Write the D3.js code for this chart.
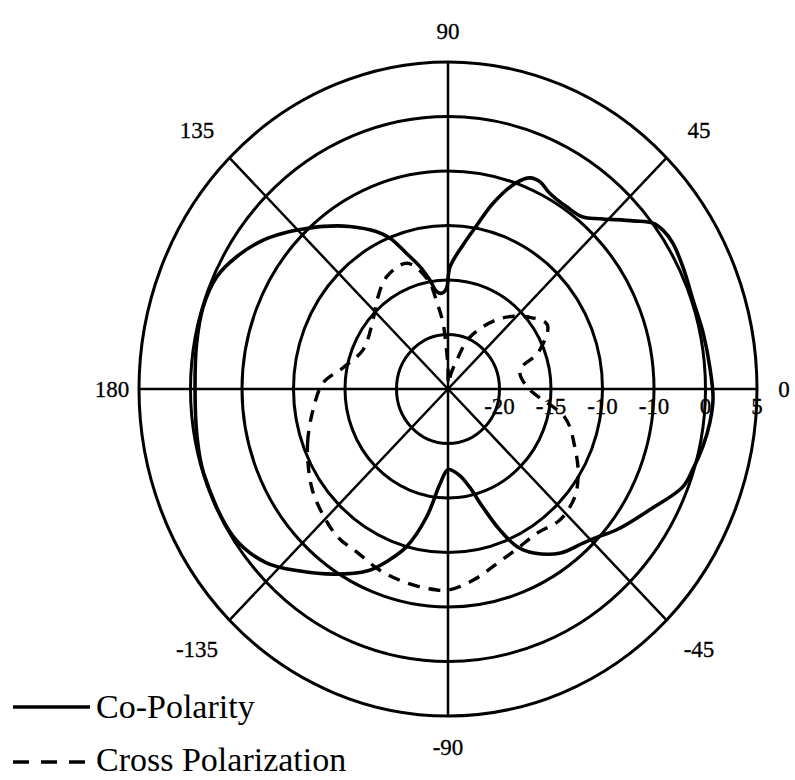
<!DOCTYPE html>
<html>
<head>
<meta charset="utf-8">
<title>Polar pattern</title>
<script src="https://d3js.org/d3.v7.min.js"></script>
<style>
  body { margin: 0; background: #fff; }
  svg { display: block; }
  text { font-family: "Liberation Serif", "Times New Roman", serif; fill: #000; }
</style>
</head>
<body>
<svg id="chart"></svg>
<script>
// rings (dB) and the labels printed on them
const ringValues = [-20, -15, -10, -5, 0, 5];
const ringLabels = ["-20", "-15", "-10", "-10", "0", "5"];
const angleTicks = [0, 45, 90, 135, 180, -135, -90, -45];

// co-polarity, angle in degrees -> dB
const coAngles = [-170, -162, -147, -138, -131, -123, -115, -110, -105.5, -100, -95, -90, -82, -77,
  -72.6, -68.7, -65, -61, -54, -47, -43, -38, -29.5, -21.5, -17, -12, -7, -2, 4.5, 11.7, 19, 26,
  31.5, 35, 37.4, 40.6, 46.6, 50.3, 55.3, 61.2, 64.8, 67.6, 70.6, 75.6, 79.4, 83.7, 89, 91, 94, 97,
  100, 103.6, 108, 112, 115.6, 122.6, 129, 133.7, 138, 142.7, 149.4, 155.4, 162.4, 170.3, 180];
const coDb = [-0.25, -0.05, -0.15, -1.2, -2.9, -4.75, -6.6, -8.3, -10.0, -13.1, -16.3, -17.6, -17.0, -15.8,
  -13.6, -11.1, -9.0, -7.8, -6.4, -5.7, -5.1, -4.1, -2.5, -0.5, -0.1, 0.3, 0.6, 0.75, 0.5, 0.3, 0.15, 0.4,
  0.6, 0.45, 0.05, -1.3, -3.5, -4.5, -4.7, -4.5, -4.0, -4.05, -4.9, -7.4, -9.7, -11.7, -13.8, -15.8, -16.2, -16.0,
  -14.85, -13.45, -11.9, -10.1, -9.0, -7.3, -5.8, -4.7, -3.6, -2.45, -1.16, -0.3, -0.07, -0.24, -0.44];

// cross polarization
const crossAngles = [-171.6, -161, -153.4, -144.9, -137.1, -128.2, -120.1, -111.7, -103.9, -96.4, -90, -82,
  -73.4, -65, -56.8, -47.9, -38.8, -31.4, -23.3, -13.2, 1.2, 14, 21, 31.4, 39.7, 52, 66, 72, 78, 85, 90,
  92, 94.6, 97.7, 101, 109, 120, 130, 139, 156.5, 169.3, 177.4];
const crossDb = [-11.75, -10.6, -9.8, -8.9, -8.3, -7.7, -7.6, -7.1, -6.8, -6.6, -6.55, -7.3,
  -8.3, -8.9, -9.2, -8.8, -9.2, -10.2, -11.6, -13.3, -17.3, -17.8, -15.6, -13.7, -14.7, -16.8, -19.8, -22.2, -23.5, -24.5, -23,
  -21.7, -18.9, -17, -14.8, -12.8, -13.1, -14.3, -15.35, -16.0, -14.6, -12.85];

const width = 795, height = 780;
const cx = 448, cy = 389;

const svg = d3.select("#chart").attr("width", width).attr("height", height);

// the scan is slightly taller than wide, so x and y radii differ
const rx = d3.scaleLinear().domain([-25, 5]).range([0, 309]);
const ry = d3.scaleLinear().domain([-25, 5]).range([0, 327]);
const rad = d => d * Math.PI / 180;
const pt = (a, v) => [cx + rx(v) * Math.cos(rad(a)), cy - ry(v) * Math.sin(rad(a))];

// rings
svg.append("g").selectAll("ellipse")
  .data(ringValues)
  .join("ellipse")
  .attr("cx", cx).attr("cy", cy)
  .attr("rx", d => rx(d)).attr("ry", d => ry(d))
  .attr("fill", "none").attr("stroke", "#000").attr("stroke-width", 3);

// spokes
svg.append("g").selectAll("line")
  .data(angleTicks)
  .join("line")
  .attr("x1", cx).attr("y1", cy)
  .attr("x2", d => pt(d, 5)[0]).attr("y2", d => pt(d, 5)[1])
  .attr("stroke", "#000").attr("stroke-width", 2.5);

// radial labels under the 0 deg spoke
svg.append("g").selectAll("text")
  .data(ringValues)
  .join("text")
  .attr("x", d => cx + rx(d))
  .attr("y", cy + 25)
  .attr("text-anchor", "middle")
  .attr("font-size", 23)
  .attr("stroke", "#000").attr("stroke-width", 0.3)
  .text((d, i) => ringLabels[i]);

// angle labels
svg.append("g").selectAll("text")
  .data(angleTicks)
  .join("text")
  .attr("x", d => {
    const off = d % 90 === 0 ? 27 : 46;
    return cx + (rx(5) + off) * Math.cos(rad(d));
  })
  .attr("y", d => {
    const off = d % 90 === 0 ? 31 : 40;
    return cy - (ry(5) + off) * Math.sin(rad(d));
  })
  .attr("dy", "0.35em")
  .attr("text-anchor", "middle")
  .attr("font-size", 23)
  .attr("stroke", "#000").attr("stroke-width", 0.3)
  .text(d => d);

const line = d3.line().curve(d3.curveCatmullRomClosed.alpha(0.5));

svg.append("path")
  .attr("d", line(coAngles.map((a, i) => pt(a, coDb[i]))))
  .attr("fill", "none").attr("stroke", "#000").attr("stroke-width", 3.6)
  .attr("stroke-linejoin", "round");

svg.append("path")
  .attr("d", line(crossAngles.map((a, i) => pt(a, crossDb[i]))))
  .attr("fill", "none").attr("stroke", "#000").attr("stroke-width", 3.4)
  .attr("stroke-dasharray", "12 9");

// legend
const legend = svg.append("g");
legend.append("line").attr("x1", 13).attr("x2", 90).attr("y1", 707).attr("y2", 707)
  .attr("stroke", "#000").attr("stroke-width", 3.4);
legend.append("text").attr("x", 96).attr("y", 718).attr("font-size", 34).text("Co-Polarity");
legend.append("line").attr("x1", 13).attr("x2", 88).attr("y1", 762).attr("y2", 762)
  .attr("stroke", "#000").attr("stroke-width", 3.4).attr("stroke-dasharray", "16 12");
legend.append("text").attr("x", 96).attr("y", 771).attr("font-size", 34).text("Cross Polarization");
</script>
</body>
</html>
